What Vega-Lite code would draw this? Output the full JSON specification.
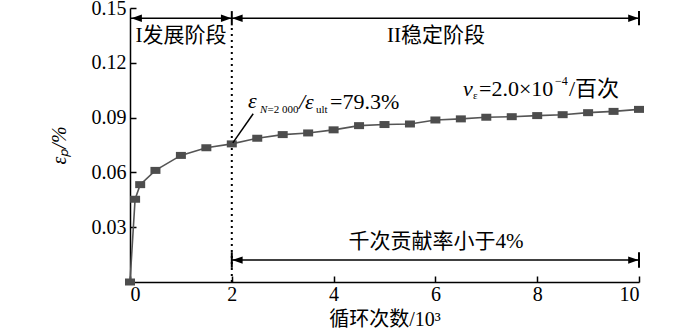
{
  "$schema": "https://vega.github.io/schema/vega-lite/v6.json",
  "width": 509,
  "height": 274,
  "autosize": {"type": "none"},
  "padding": {"left": 130, "top": 8, "right": 61, "bottom": 51},
  "background": "white",
  "config": {"view": {"stroke": null}},
  "datasets": {
    "pts": [
      {"x": 0, "y": 0}, {"x": 0.1, "y": 0.0453}, {"x": 0.2, "y": 0.0533}, {"x": 0.5, "y": 0.0611},
      {"x": 1, "y": 0.0693}, {"x": 1.5, "y": 0.0735}, {"x": 2, "y": 0.0756}, {"x": 2.5, "y": 0.0787},
      {"x": 3, "y": 0.0807}, {"x": 3.5, "y": 0.0816}, {"x": 4, "y": 0.0833}, {"x": 4.5, "y": 0.0856},
      {"x": 5, "y": 0.0862}, {"x": 5.5, "y": 0.0865}, {"x": 6, "y": 0.0887}, {"x": 6.5, "y": 0.0893},
      {"x": 7, "y": 0.0902}, {"x": 7.5, "y": 0.0905}, {"x": 8, "y": 0.0911}, {"x": 8.5, "y": 0.0916},
      {"x": 9, "y": 0.0927}, {"x": 9.5, "y": 0.0934}, {"x": 10, "y": 0.0945}
    ],
    "hlines": [
      {"x": 0.02, "x2": 2, "y": 0.1444},
      {"x": 2, "x2": 10, "y": 0.1444},
      {"x": 2, "x2": 10, "y": 0.012}
    ],
    "bars": [
      {"x": 2, "y": 0.1405, "y2": 0.1483},
      {"x": 10, "y": 0.1405, "y2": 0.1483},
      {"x": 2, "y": 0.0078, "y2": 0.0163},
      {"x": 10, "y": 0.0078, "y2": 0.0163}
    ],
    "headsL": [{"x": 0.13, "y": 0.1444}, {"x": 2.11, "y": 0.1444}, {"x": 2.11, "y": 0.012}],
    "headsR": [{"x": 1.89, "y": 0.1444}, {"x": 9.89, "y": 0.1444}, {"x": 9.89, "y": 0.012}],
    "dotted": [{"x": 2, "y": 0, "y2": 0.141}],
    "leader": [{"x": 2.02, "y": 0.0762, "x2": 2.42, "y2": 0.0921}],
    "labels": [
      {"x": 1.0, "y": 0.1346, "t": "I发展阶段"},
      {"x": 6.01, "y": 0.1346, "t": "II稳定阶段"},
      {"x": 6.01, "y": 0.0218, "t": "千次贡献率小于4%"}
    ],
    "bigItalic": [
      {"x": 2.318, "y": 0.0954, "t": "ε"},
      {"x": 3.320, "y": 0.0948, "t": "/ε"},
      {"x": 6.542, "y": 0.1019, "t": "v"}
    ],
    "bigNormal": [
      {"x": 3.929, "y": 0.0948, "t": "=79.3%"},
      {"x": 6.857, "y": 0.1019, "t": "=2.0×10"},
      {"x": 8.625, "y": 0.1019, "t": "/百次"}
    ],
    "subItalic": [{"x": 2.554, "y": 0.0927, "t": "N"}],
    "subNormal": [
      {"x": 2.701, "y": 0.0927, "t": "=2 000"},
      {"x": 3.654, "y": 0.0927, "t": "ult"},
      {"x": 6.739, "y": 0.1003, "t": "ε"}
    ],
    "sup": [{"x": 8.35, "y": 0.1079, "t": "−4"}]
  },
  "encoding": {
    "x": {
      "field": "x", "type": "quantitative",
      "scale": {"domain": [0, 10], "nice": false, "zero": false},
      "axis": {
        "values": [0, 2, 4, 6, 8, 10], "format": "d", "grid": false,
        "tickSize": -6, "tickColor": "black", "tickWidth": 1.5,
        "domainColor": "black", "domainWidth": 1.5,
        "labelFont": "Liberation Serif", "labelFontSize": 20, "labelColor": "black", "labelPadding": 8,
        "title": "循环次数/10³", "titleFont": "Liberation Serif, Noto Sans CJK SC", "titleFontSize": 20,
        "titleFontWeight": "normal", "titleColor": "black", "titlePadding": 5
      }
    },
    "y": {
      "field": "y", "type": "quantitative",
      "scale": {"domain": [0, 0.15], "nice": false, "zero": true},
      "axis": {
        "values": [0.03, 0.06, 0.09, 0.12, 0.15], "format": ".2f", "grid": false,
        "tickSize": -6, "tickColor": "black", "tickWidth": 1.5,
        "domainColor": "black", "domainWidth": 1.5,
        "labelFont": "Liberation Serif", "labelFontSize": 20, "labelColor": "black", "labelPadding": 10,
        "title": "εₚ/%", "titleFont": "Liberation Serif", "titleFontSize": 20, "titleFontStyle": "italic",
        "titleFontWeight": "normal", "titleColor": "black", "titlePadding": 22
      }
    }
  },
  "layer": [
    {"data": {"name": "dotted"}, "mark": {"type": "rule", "color": "black", "strokeWidth": 2, "strokeDash": [2, 4]},
     "encoding": {"y2": {"field": "y2"}}},
    {"data": {"name": "pts"}, "mark": {"type": "line", "color": "#555555", "strokeWidth": 1.6}},
    {"data": {"name": "pts"}, "mark": {"type": "point", "shape": "M-1,-0.7L1,-0.7L1,0.7L-1,0.7Z", "size": 100, "filled": true, "color": "#4d4d4d", "opacity": 1}},
    {"data": {"name": "hlines"}, "mark": {"type": "rule", "color": "black", "strokeWidth": 1.5},
     "encoding": {"x2": {"field": "x2"}}},
    {"data": {"name": "bars"}, "mark": {"type": "rule", "color": "black", "strokeWidth": 2},
     "encoding": {"y2": {"field": "y2"}}},
    {"data": {"name": "headsL"}, "mark": {"type": "point", "shape": "M-1,0L1,-0.7L1,0.7Z", "size": 110, "filled": true, "color": "black", "opacity": 1}},
    {"data": {"name": "headsR"}, "mark": {"type": "point", "shape": "M1,0L-1,-0.7L-1,0.7Z", "size": 110, "filled": true, "color": "black", "opacity": 1}},
    {"data": {"name": "leader"}, "mark": {"type": "rule", "color": "black", "strokeWidth": 1.5},
     "encoding": {"x2": {"field": "x2"}, "y2": {"field": "y2"}}},
    {"data": {"name": "labels"}, "mark": {"type": "text", "font": "Liberation Serif, Noto Sans CJK SC", "fontSize": 21, "align": "center", "baseline": "middle", "color": "black"},
     "encoding": {"text": {"field": "t"}}},
    {"data": {"name": "bigItalic"}, "mark": {"type": "text", "font": "Liberation Serif", "fontStyle": "italic", "fontSize": 22, "align": "left", "baseline": "alphabetic", "color": "black"},
     "encoding": {"text": {"field": "t"}}},
    {"data": {"name": "bigNormal"}, "mark": {"type": "text", "font": "Liberation Serif, Noto Sans CJK SC", "fontSize": 22, "align": "left", "baseline": "alphabetic", "color": "black"},
     "encoding": {"text": {"field": "t"}}},
    {"data": {"name": "subItalic"}, "mark": {"type": "text", "font": "Liberation Serif", "fontStyle": "italic", "fontSize": 11, "align": "left", "baseline": "alphabetic", "color": "black"},
     "encoding": {"text": {"field": "t"}}},
    {"data": {"name": "subNormal"}, "mark": {"type": "text", "font": "Liberation Serif", "fontSize": 11, "align": "left", "baseline": "alphabetic", "color": "black"},
     "encoding": {"text": {"field": "t"}}},
    {"data": {"name": "sup"}, "mark": {"type": "text", "font": "Liberation Serif", "fontSize": 12, "align": "left", "baseline": "alphabetic", "color": "black"},
     "encoding": {"text": {"field": "t"}}}
  ]
}
